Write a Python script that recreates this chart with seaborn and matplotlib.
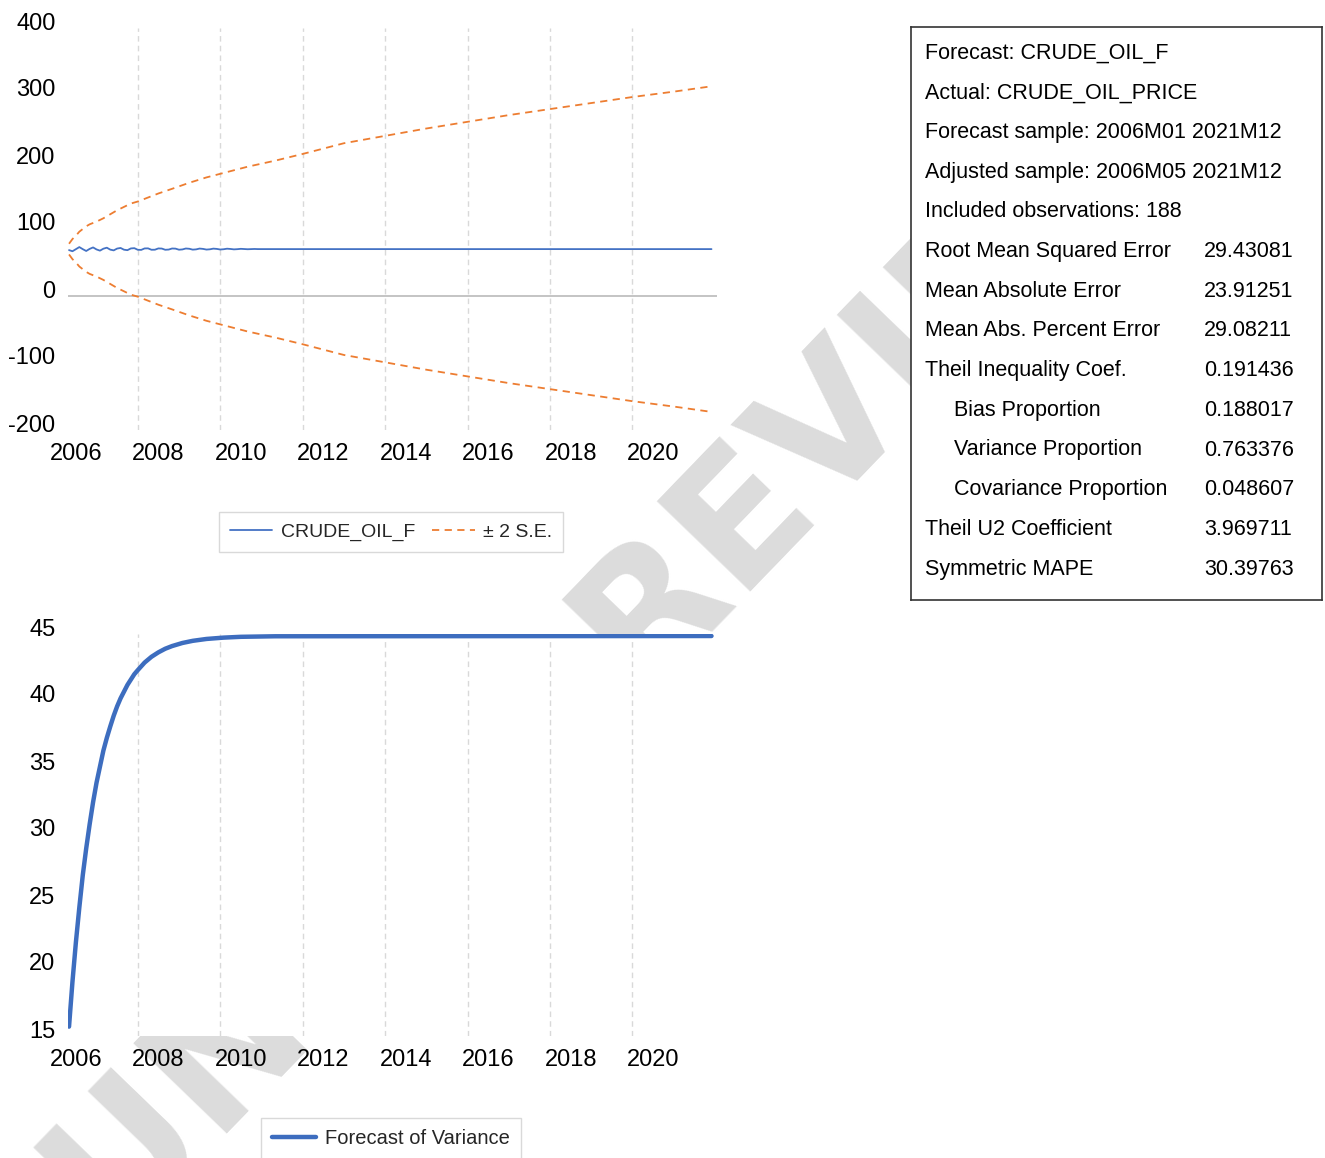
import matplotlib
matplotlib.use("Agg")
import matplotlib.pyplot as plt
import matplotlib.transforms as mtransforms
from matplotlib.lines import Line2D
import pandas as pd
import seaborn as sns

# ---------------- data ----------------
year_labels = ["2006", "2008", "2010", "2012", "2014", "2016", "2018", "2020"]
label_pos = [2, 26, 50, 74, 98, 122, 146, 170]          # month index of each year label
grid_pos = [20, 44, 68, 92, 116, 140, 164]              # month index of vertical gridlines

# CRUDE_OIL_F forecast (monthly, first months oscillate, then flat)
fc_early = [68.5, 66.8, 69.9, 73.0, 69.9, 67.2, 70.3, 72.5, 69.5, 67.7,
            70.6, 72.1, 69.2, 68.1, 70.8, 71.7, 69.1, 68.4, 71.0, 71.4,
            69.0, 68.8, 71.0, 71.1, 69.0, 69.1, 71.0, 70.8, 69.0, 69.3,
            70.9, 70.7, 69.1, 69.5, 70.9, 70.5, 69.2, 69.6, 70.8, 70.3,
            69.3, 69.7, 70.7, 70.3, 69.4, 69.8, 70.6, 70.2, 69.6, 69.9,
            70.4, 70.1, 69.8, 70.0, 70.2, 70.0]
fc_last = 70.0
n_obs = 188

# +/- 2 S.E. bands
band_idx = [0, 1, 2, 3, 4, 5, 6, 8, 10, 12, 14, 16, 18, 20, 23, 26, 30, 35, 40, 46,
            52, 60, 68, 80, 92, 104, 116, 128, 140, 152, 164, 176, 187]
upper = [78, 85, 90, 96, 100, 104, 107, 111, 116, 122, 128, 133, 138, 141, 147, 153,
         160, 169, 177, 185, 193, 202, 212, 228, 239, 250, 260, 270, 279, 288, 297, 305, 313]
lower = [62, 55, 50, 44, 40, 36, 33, 29, 24, 18, 12, 7, 2, -1, -7, -13,
         -20, -29, -37, -45, -53, -62, -72, -88, -99, -110, -120, -130, -139, -148, -157, -165, -173]

# Forecast of variance
var_idx = list(range(21)) + [22, 24, 26, 28, 30, 33, 36, 40, 45, 50, 60, 187]
var_val = [15.7, 19.05, 22.0, 24.6, 27.0, 29.0, 30.8, 32.45, 33.9, 35.1,
           36.3, 37.25, 38.1, 38.9, 39.6, 40.2, 40.7, 41.2, 41.6, 42.0,
           42.3, 42.87, 43.3, 43.63, 43.9, 44.1, 44.33, 44.49, 44.63, 44.73,
           44.79, 44.83, 44.85]

stat_labels = ["Forecast: CRUDE_OIL_F", "Actual: CRUDE_OIL_PRICE",
               "Forecast sample: 2006M01 2021M12", "Adjusted sample: 2006M05 2021M12",
               "Included observations: 188", "Root Mean Squared Error",
               "Mean Absolute Error", "Mean Abs. Percent Error",
               "Theil Inequality Coef.", "Bias Proportion", "Variance Proportion",
               "Covariance Proportion", "Theil U2 Coefficient", "Symmetric MAPE"]
stat_values = ["", "", "", "", "", "29.43081", "23.91251", "29.08211", "0.191436",
               "0.188017", "0.763376", "0.048607", "3.969711", "30.39763"]
stat_indent = [0, 0, 0, 0, 0, 0, 0, 0, 0, 1, 1, 1, 0, 0]

# ---------------- style ----------------
sns.set_theme(style="white")
plt.rcParams["font.family"] = ["Liberation Sans", "DejaVu Sans"]

BLUE = "#4472C4"
ORANGE = "#ED7D31"
GRID = "#d9d9d9"

W, H = 1325, 1158
fig = plt.figure(figsize=(W / 100, H / 100), dpi=100)
fig.patch.set_facecolor("white")

# watermark behind everything
fig.text(80 / W, 1 - 1215 / H, "UNDER REVIEW", rotation=46, ha="left", va="center",
         fontsize=128, color="#dcdcdc", fontweight="bold", zorder=-5,
         family=["DejaVu Sans"], rotation_mode="anchor")

fc_df = pd.DataFrame({"idx": list(range(len(fc_early))) + [n_obs - 1],
                      "val": fc_early + [fc_last]})
band_df = pd.DataFrame({"idx": band_idx, "upper": upper, "lower": lower})
var_df = pd.DataFrame({"idx": var_idx, "val": var_val})


def style_axis(ax, ylim, yticks):
    ax.set_facecolor("white")
    ax.set_xlim(-0.3, 188.6)
    ax.set_ylim(*ylim)
    ax.set_yticks(yticks)
    ax.set_yticklabels([str(t) for t in yticks])
    ax.set_xticks(label_pos)
    ax.set_xticklabels(year_labels)
    ax.set_xticks(grid_pos, minor=True)
    ax.grid(False)
    ax.grid(which="minor", axis="x", color=GRID, linestyle=(0, (4, 3)), linewidth=1.0)
    ax.tick_params(axis="both", which="both", length=0)
    ax.tick_params(axis="x", pad=9, labelsize=17, colors="black")
    ax.tick_params(axis="y", pad=9, labelsize=17, colors="black")
    for s in ax.spines.values():
        s.set_visible(False)
    ax.set_xlabel("")
    ax.set_ylabel("")
    off = mtransforms.ScaledTranslation(0, 0.07, fig.dpi_scale_trans)
    for lab in ax.get_yticklabels():
        lab.set_transform(lab.get_transform() + off)


# ---------------- top chart ----------------
ax1 = fig.add_axes([68 / W, 1 - 430 / H, (717 - 68) / W, 402 / H])
ax1.axhline(0, color="#bfbfbf", linewidth=1.3, zorder=1)
sns.lineplot(data=fc_df, x="idx", y="val", ax=ax1, color=BLUE, linewidth=1.3, zorder=3)
sns.lineplot(data=band_df, x="idx", y="upper", ax=ax1, color=ORANGE, linewidth=1.3,
             linestyle=(0, (4, 3)), zorder=3)
sns.lineplot(data=band_df, x="idx", y="lower", ax=ax1, color=ORANGE, linewidth=1.3,
             linestyle=(0, (4, 3)), zorder=3)
style_axis(ax1, (-200, 400), [-200, -100, 0, 100, 200, 300, 400])

h1 = [Line2D([], [], color=BLUE, linewidth=1.3),
      Line2D([], [], color=ORANGE, linewidth=1.3, linestyle=(0, (4, 3)))]
leg1 = ax1.legend(h1, ["CRUDE_OIL_F", "± 2 S.E."], loc="center",
                  bbox_to_anchor=(391 / W, 1 - 532 / H), bbox_transform=fig.transFigure,
                  ncol=2, frameon=True, fancybox=False, fontsize=14,
                  handlelength=2.2, handletextpad=0.45, columnspacing=0.85,
                  borderpad=0.55)
leg1.get_frame().set_edgecolor(GRID)
leg1.get_frame().set_facecolor("white")
leg1.get_frame().set_alpha(1)

# ---------------- bottom chart ----------------
ax2 = fig.add_axes([68 / W, 1 - 1036 / H, (717 - 68) / W, 402 / H])
sns.lineplot(data=var_df, x="idx", y="val", ax=ax2, color="#3D6DBF", linewidth=3.2, zorder=3)
style_axis(ax2, (15, 45), [15, 20, 25, 30, 35, 40, 45])

h2 = [Line2D([], [], color="#3D6DBF", linewidth=3.2)]
leg2 = ax2.legend(h2, ["Forecast of Variance"], loc="center",
                  bbox_to_anchor=(391 / W, 1 - 1139 / H), bbox_transform=fig.transFigure,
                  frameon=True, fancybox=False, fontsize=14.5,
                  handlelength=2.2, handletextpad=0.45, borderpad=0.55)
leg2.get_frame().set_edgecolor(GRID)
leg2.get_frame().set_facecolor("white")
leg2.get_frame().set_alpha(1)

# ---------------- statistics box ----------------
ax3 = fig.add_axes([911 / W, 1 - 600 / H, 411 / W, 573 / H])
ax3.set_facecolor("white")
ax3.set_xlim(911, 1322)
ax3.set_ylim(600, 27)
ax3.set_xticks([])
ax3.set_yticks([])
ax3.grid(False)
for s in ax3.spines.values():
    s.set_visible(True)
    s.set_color("#333333")
    s.set_linewidth(1.2)
for i, (lab, val, ind) in enumerate(zip(stat_labels, stat_values, stat_indent)):
    y = 53 + 39.7 * i
    ax3.text(954 if ind else 925, y, lab, ha="left", va="center", fontsize=15.5,
             family=["Liberation Sans", "DejaVu Sans"], color="black")
    if val:
        ax3.text(1204, y, val, ha="left", va="center", fontsize=15.5,
                 family=["Liberation Sans", "DejaVu Sans"], color="black")

fig.savefig("out.png", dpi=100, facecolor="white")
